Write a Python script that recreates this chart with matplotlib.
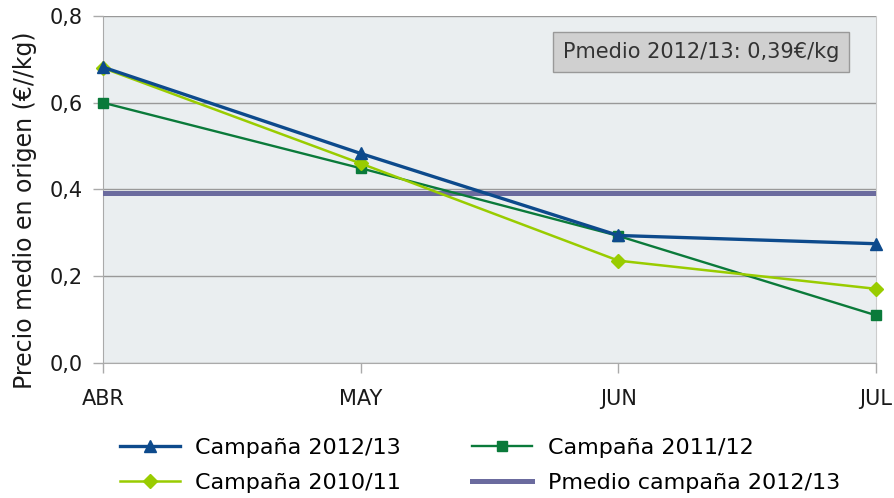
import numpy as np
import matplotlib.pyplot as plt

plt.rcParams['font.family'] = ['DejaVu Sans']

meses = ['ABR', 'MAY', 'JUN', 'JUL']
c2012 = [0.682, 0.483, 0.294, 0.275]
c2011 = [0.600, 0.449, 0.293, 0.110]
c2010 = [0.680, 0.460, 0.236, 0.171]
pmedio = 0.393


def main():
    fig = plt.figure(figsize=(8.94, 4.98), dpi=100)
    ax = fig.add_axes([0.1152, 0.271, 0.8647, 0.697])
    ax.set_facecolor('#eaeef0')
    x = np.arange(len(meses))

    l1, = ax.plot(x, c2012, color='#0d4a8c', lw=2.4, marker='^', ms=9,
                  label='Campaña 2012/13', clip_on=False, zorder=5)
    l2, = ax.plot(x, c2011, color='#0a7a3a', lw=1.7, marker='s', ms=7,
                  label='Campaña 2011/12', clip_on=False, zorder=4)
    l3, = ax.plot(x, c2010, color='#99cc00', lw=1.8, marker='D', ms=7,
                  label='Campaña 2010/11', clip_on=False, zorder=4)
    l4, = ax.plot(x, [pmedio] * len(x), color='#6b6b9e', lw=3.6,
                  label='Pmedio campaña 2012/13', zorder=3)

    ax.set_xlim(0, 3)
    ax.set_ylim(0, 0.8)
    ax.set_xticks(x)
    ax.set_xticklabels(meses)
    ax.set_yticks([0, 0.2, 0.4, 0.6, 0.8])
    ax.set_yticklabels(['0,0', '0,2', '0,4', '0,6', '0,8'])
    ax.tick_params(labelsize=15, labelcolor='#1a1a1a', color='#aaaaaa',
                   length=7.5, width=1)
    ax.tick_params(axis='x', pad=11)
    ax.tick_params(axis='y', pad=7)
    ax.grid(axis='y', color='#999999', lw=1)
    ax.set_axisbelow(True)
    ax.spines['top'].set_visible(False)
    ax.spines['right'].set_color('#cccccc')
    ax.spines['left'].set_color('#aaaaaa')
    ax.spines['bottom'].set_color('#aaaaaa')
    ax.set_ylabel('Precio medio en origen (€//kg)', fontsize=17,
                  color='#1a1a1a')
    ax.yaxis.set_label_coords(-0.086, 0.44)

    ax.text(0.595, 0.897, 'Pmedio 2012/13: 0,39€/kg', transform=ax.transAxes,
            fontsize=15, color='#333333', va='center', ha='left',
            bbox=dict(boxstyle='square,pad=0.48', fc='#d0d0d0', ec='#999999'))

    handles = [l1, l3, l2, l4]
    fig.legend(handles, [h.get_label() for h in handles],
               loc='upper left', bbox_to_anchor=(0.134, 0.12), ncol=2,
               frameon=False, fontsize=16, handlelength=2.7,
               handletextpad=0.7, columnspacing=3.2, labelspacing=0.65,
               borderpad=0, borderaxespad=0)
    fig.savefig('out.png', dpi=100)


if __name__ == "__main__":
    main()
